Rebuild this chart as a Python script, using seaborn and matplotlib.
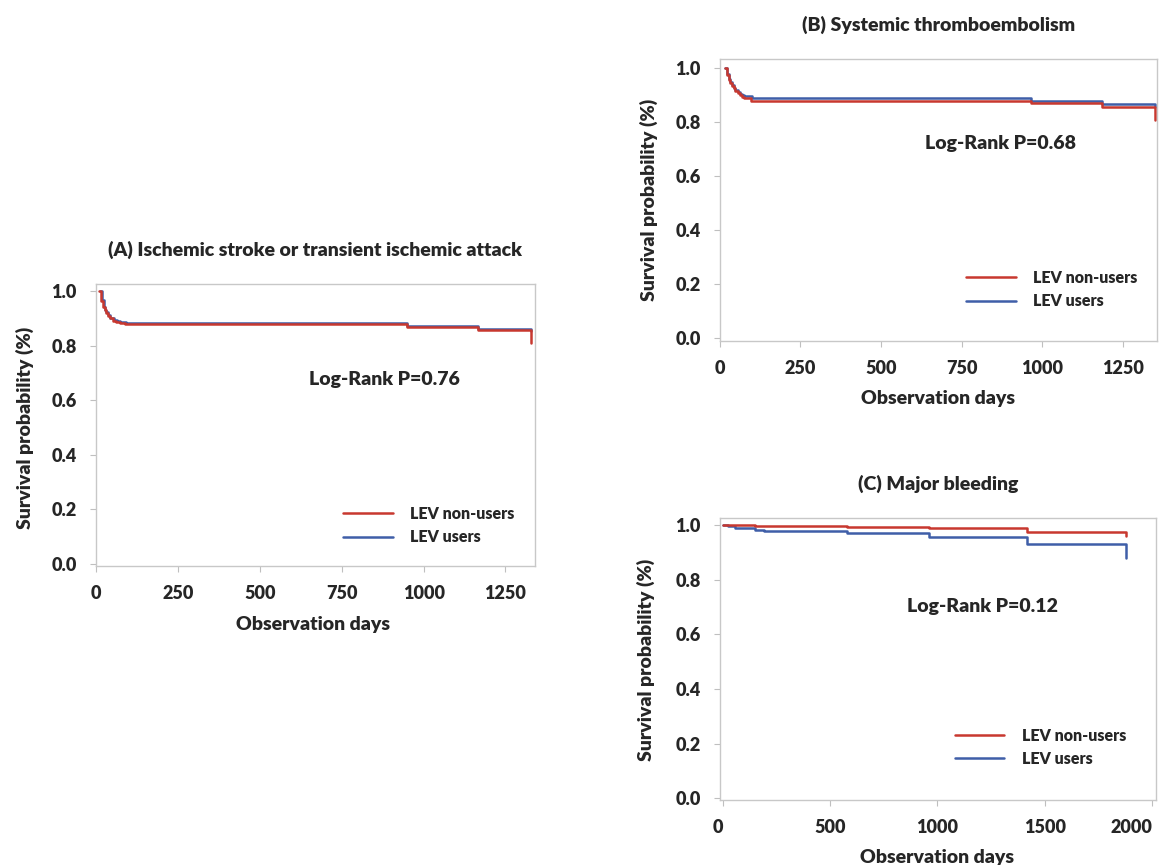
import pandas as pd
import seaborn as sns
import matplotlib.pyplot as plt

# Kaplan-Meier style curves (days, survival)
a_non_days = [10, 16, 22, 27, 31, 37, 43, 52, 62, 72, 88, 950, 1165, 1328]
a_non_surv = [1.0, 0.965, 0.94, 0.93, 0.92, 0.91, 0.90, 0.892, 0.887, 0.884, 0.878, 0.870, 0.858, 0.81]
a_usr_days = [11, 17, 23, 28, 32, 38, 44, 54, 64, 74, 92, 950, 1165, 1328]
a_usr_surv = [1.0, 0.967, 0.942, 0.932, 0.923, 0.913, 0.903, 0.895, 0.89, 0.887, 0.882, 0.873, 0.861, 0.855]

b_non_days = [15, 21, 27, 32, 37, 43, 48, 55, 61, 68, 76, 95, 966, 1186, 1352]
b_non_surv = [1.0, 0.975, 0.956, 0.944, 0.933, 0.924, 0.915, 0.907, 0.90, 0.894, 0.888, 0.878, 0.870, 0.857, 0.808]
b_usr_days = [15, 21, 27, 32, 37, 43, 48, 55, 61, 68, 76, 100, 966, 1186, 1352]
b_usr_surv = [1.0, 0.977, 0.958, 0.947, 0.936, 0.927, 0.918, 0.911, 0.905, 0.90, 0.895, 0.889, 0.878, 0.867, 0.855]

c_non_days = [0, 151, 578, 963, 1417, 1881]
c_non_surv = [1.0, 0.996, 0.993, 0.988, 0.975, 0.96]
c_usr_days = [0, 23, 55, 151, 193, 578, 963, 1417, 1881]
c_usr_surv = [1.0, 0.997, 0.988, 0.982, 0.977, 0.971, 0.958, 0.930, 0.88]

titles = ["(A) Ischemic stroke or transient ischemic attack",
          "(B) Systemic thromboembolism",
          "(C) Major bleeding"]
pvalues = ["Log-Rank P=0.76", "Log-Rank P=0.68", "Log-Rank P=0.12"]

red = "#c8382f"
blue = "#3f5ea8"

sns.set_style("white")
plt.rcParams["font.family"] = ["Lato", "DejaVu Sans"]
plt.rcParams["font.weight"] = "heavy"
W = "heavy"

fig = plt.figure(figsize=(11.62, 8.65), dpi=100)
axA = fig.add_axes([0.0826, 0.3457, 0.3778, 0.326])
axB = fig.add_axes([0.6196, 0.6058, 0.3761, 0.326])
axC = fig.add_axes([0.6196, 0.0751, 0.3752, 0.326])

panels = [
    (axA, a_non_days, a_non_surv, a_usr_days, a_usr_surv, (0, 1340), range(0, 1251, 250),
     (-0.007, 1.026), (0.658, 0.663), (0.563, 0.213), (-0.141, 0.49), (0.494, -0.176)),
    (axB, b_non_days, b_non_surv, b_usr_days, b_usr_surv, (0, 1357), range(0, 1251, 250),
     (-0.011, 1.033), (0.641, 0.702), (0.563, 0.252), (-0.142, 0.5), (0.5, -0.174)),
    (axC, c_non_days, c_non_surv, c_usr_days, c_usr_surv, (-14, 2019), range(0, 2001, 500),
     (-0.007, 1.026), (0.601, 0.688), (0.539, 0.256), (-0.149, 0.496), (0.498, -0.172)),
]

for i, (ax, nd, ns, ud, us, xlim, xt, ylim, ptxt, leg, ylc, xlc) in enumerate(panels):
    dn = pd.DataFrame({"day": nd, "surv": ns})
    du = pd.DataFrame({"day": ud, "surv": us})
    sns.lineplot(data=du, x="day", y="surv", color=blue, lw=1.8, estimator=None,
                 drawstyle="steps-post", label="LEV users", ax=ax)
    sns.lineplot(data=dn, x="day", y="surv", color=red, lw=1.8, estimator=None,
                 drawstyle="steps-post", label="LEV non-users", ax=ax)
    ax.set_xlim(*xlim)
    ax.set_ylim(*ylim)
    ax.set_xticks(list(xt))
    ax.set_yticks([0.0, 0.2, 0.4, 0.6, 0.8, 1.0])
    ax.set_yticklabels(["0.0", "0.2", "0.4", "0.6", "0.8", "1.0"])
    ax.tick_params(axis="both", labelsize=13, length=4, pad=10, color="#bfbfbf",
                   direction="out", bottom=True, left=True)
    for lab in ax.get_xticklabels() + ax.get_yticklabels():
        lab.set_fontweight(W)
    if i == 2:
        xl = ax.get_xticklabels()
        xl[0].set_ha("right")
        xl[-1].set_ha("right")
    for sp in ax.spines.values():
        sp.set_color("#c8c8c8")
        sp.set_linewidth(1.0)
    ax.set_title(titles[i], fontsize=14, fontweight=W, pad=20)
    ax.set_xlabel("Observation days", fontsize=14, fontweight=W)
    ax.set_ylabel("Survival probability (%)", fontsize=14, fontweight=W)
    ax.yaxis.set_label_coords(*ylc)
    ax.xaxis.set_label_coords(*xlc)
    ax.text(ptxt[0], ptxt[1], pvalues[i], transform=ax.transAxes, ha="center",
            va="center", fontsize=14, fontweight=W)
    h, l = ax.get_legend_handles_labels()
    ax.legend(h[::-1], l[::-1], loc="upper left", bbox_to_anchor=leg, frameon=False,
              handlelength=3.1, handletextpad=1.1, labelspacing=0.45, borderpad=0,
              borderaxespad=0, prop={"weight": W, "size": 11.5})

fig.savefig("out.png", dpi=100)
